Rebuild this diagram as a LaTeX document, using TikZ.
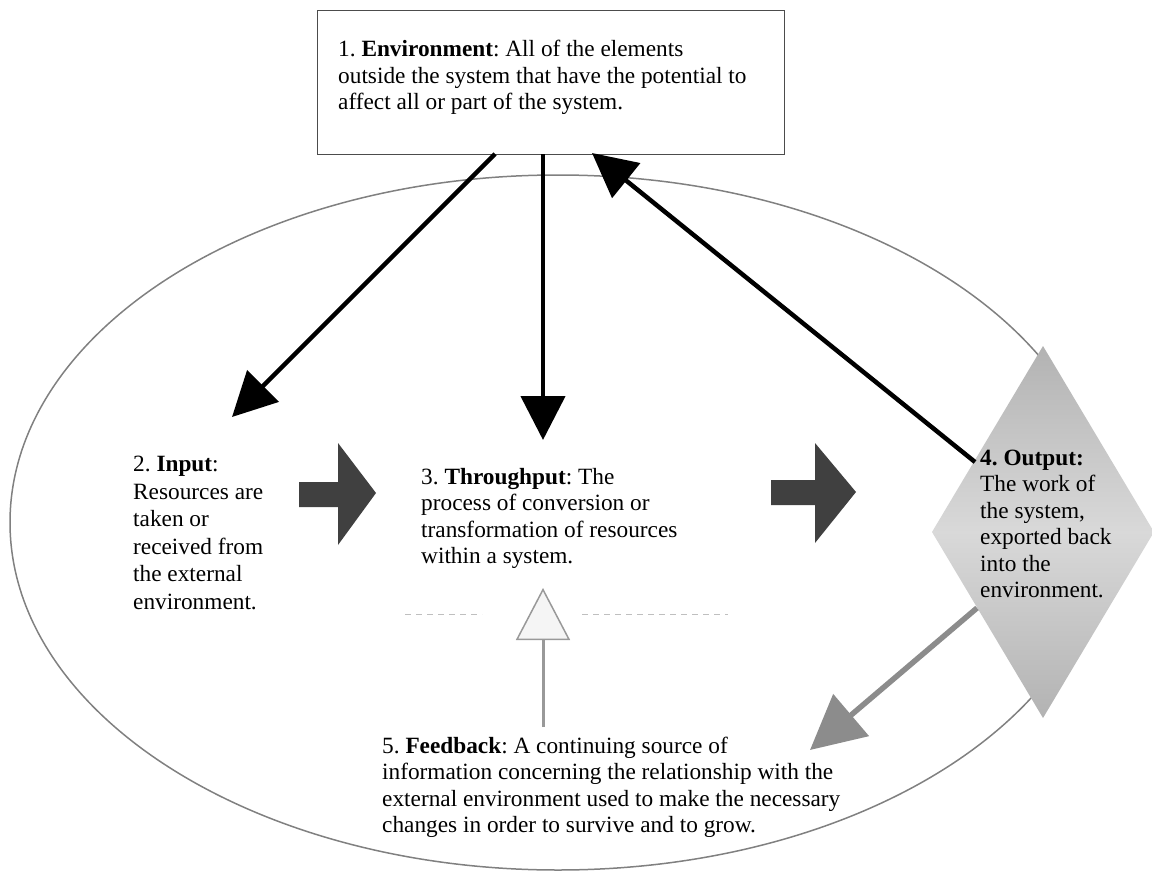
\documentclass[tikz,border=0pt]{standalone}
\usepackage{fontspec}
\setmainfont{Liberation Serif}
\usetikzlibrary{arrows.meta}
\frenchspacing
\begin{document}
\begin{tikzpicture}[x=1pt,y=-1pt,
  txt/.style={anchor=north west,inner sep=0pt,align=left,
    font=\fontsize{23.3}{26.5}\selectfont\frenchspacing},
  bigarrow/.style={line width=4.5pt,black,
    -{Triangle[length=44pt,width=44pt]}},
  blockarrow/.style={fill=black!75,draw=none},
  fbarrow/.style={line width=5.5pt,black!45,
    -{Triangle[length=54pt,width=54pt]}},
  uparrow/.style={line width=3pt,black!40,
    -{Triangle[length=52pt,width=54pt,line width=1.5pt,fill=black!4]}},
  sysline/.style={draw=black!50,line width=1.5pt},
  faint/.style={draw=black!25,line width=1pt,dash pattern=on 6pt off 5pt}]
\useasboundingbox (0,0) rectangle (1152,878);

% system ellipse
\draw[sysline] (558,522.5) ellipse [x radius=548, y radius=347.5];

% output diamond
\shade[top color=black!30,bottom color=black!30,middle color=black!15]
  (1043,346) -- (1154,532) -- (1043,718) -- (932,532) -- cycle;

% environment box
\node[draw=black!70,line width=1.3pt,fill=white,minimum width=467pt,
  minimum height=144pt,inner sep=0pt,anchor=north west] (envbox) at (317,10) {};
\node[txt] (env) at (338,38) {\strut 1. \textbf{Environment}: All of the elements\\
outside the system that have the potential to\\
affect all or part of the system.};

% texts
\node[txt,font=\fontsize{23.3}{27.5}\selectfont\frenchspacing] (input) at (133,452.5)
  {\strut 2. \textbf{Input}:\\ Resources are\\ taken or\\ received from\\ the external\\ environment.};
\node[txt] (through) at (421,465.5)
  {\strut 3. \textbf{Throughput}: The\\ process of conversion or\\ transformation of resources\\ within a system.};
\node[txt] (output) at (980,446.5)
  {\strut\textbf{4. Output:}\\ The work of\\ the system,\\ exported back\\ into the\\ environment.};
\node[txt] (feedback) at (382,734.5)
  {\strut 5. \textbf{Feedback}: A continuing source of\\
  information concerning the relationship with the\\
  external environment used to make the necessary\\
  changes in order to survive and to grow.};

% connector end points
\coordinate (e1) at (495,154);
\coordinate (i1) at (232,417);
\coordinate (e2) at (543,154);
\coordinate (t2) at (543,440);
\coordinate (o3) at (975,462);
\coordinate (e3) at (592,153);
\coordinate (o4) at (977,608);
\coordinate (f4) at (810,750);
\coordinate (f5) at (543,727);
\coordinate (t5) at (543,588);

% faint line behind the feedback arrow
\draw[faint] (405,614) -- (482,614);
\draw[faint] (582,614) -- (728,614);

% black arrows
\draw[bigarrow] (e1) -- (i1);
\draw[bigarrow] (e2) -- (t2);
\draw[bigarrow] (o3) -- (e3);

% block arrows
\path[blockarrow] (299,482) -- (338,482) -- (338,443) -- (376,493)
  -- (338,545) -- (338,507) -- (299,507) -- cycle;
\path[blockarrow] (771,480) -- (815,480) -- (815,443) -- (856,492)
  -- (815,543) -- (815,505) -- (771,505) -- cycle;

% feedback arrows
\draw[fbarrow] (o4) -- (f4);
\draw[uparrow] (f5) -- (t5);
\end{tikzpicture}
\end{document}
